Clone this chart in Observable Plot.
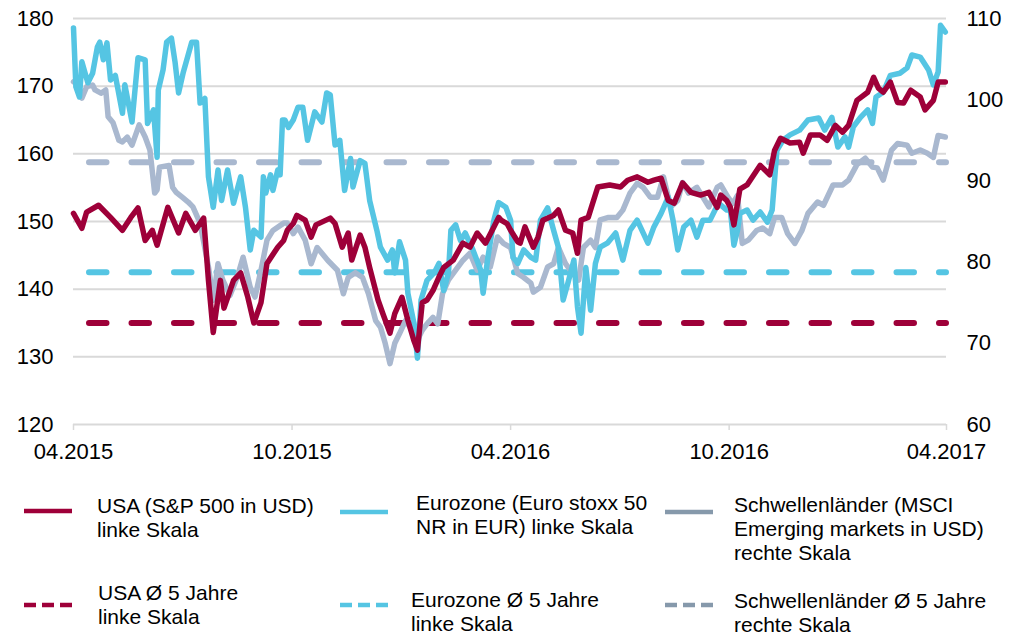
<!DOCTYPE html>
<html><head><meta charset="utf-8">
<script src="https://cdn.jsdelivr.net/npm/d3@7"></script>
<script src="https://cdn.jsdelivr.net/npm/@observablehq/plot@0.6"></script>
<style>
body{margin:0;background:#fff;font-family:"Liberation Sans",Arial,sans-serif;}
#chart{position:absolute;left:0;top:0;}
#legend{position:absolute;left:0;top:470px;width:1009px;height:168px;font-size:21px;color:#000;}
.item{position:absolute;line-height:24px;white-space:nowrap;}
.sw{position:absolute;}
</style></head><body>
<div id="chart"></div><div id="legend"></div>
<script>
// ---------- data ----------
const xDomain = ["2015-04-01", "2017-04-01"];
const xTicks = ["2015-04-01", "2015-10-01", "2016-04-01", "2016-10-01", "2017-04-01"];
const leftTicks = [120, 130, 140, 150, 160, 170, 180];
const rightTicks = [60, 70, 80, 90, 100, 110];

const usaAvg = 135;     // linke Skala
const euroAvg = 142.5;  // linke Skala
const emAvg = 92.3;     // rechte Skala

const usa = [["2015-04-01",151.2],["2015-04-08",149.0],["2015-04-12",151.4],["2015-04-22",152.4],["2015-05-02",150.6],["2015-05-12",148.7],["2015-05-19",150.6],["2015-05-25",152.0],["2015-05-31",147.2],["2015-06-06",148.7],["2015-06-10",146.5],["2015-06-19",152.1],["2015-06-28",148.3],["2015-07-04",151.2],["2015-07-12",148.7],["2015-07-19",150.5],["2015-07-23",141.3],["2015-07-27",133.6],["2015-08-02",141.3],["2015-08-05",137.2],["2015-08-13",141.3],["2015-08-19",142.4],["2015-08-25",138.8],["2015-08-30",135.0],["2015-09-05",138.0],["2015-09-10",143.8],["2015-09-19",146.2],["2015-09-24",147.2],["2015-09-27",148.7],["2015-10-02",149.7],["2015-10-05",150.9],["2015-10-08",150.6],["2015-10-12",150.2],["2015-10-17",147.7],["2015-10-21",149.5],["2015-11-02",150.5],["2015-11-06",149.7],["2015-11-12",146.2],["2015-11-17",148.3],["2015-11-20",144.3],["2015-11-27",148.0],["2015-12-01",146.2],["2015-12-05",143.2],["2015-12-12",138.4],["2015-12-16",136.4],["2015-12-22",133.5],["2015-12-26",136.4],["2016-01-01",138.8],["2016-01-06",135.4],["2016-01-11",132.4],["2016-01-14",131.0],["2016-01-18",138.0],["2016-01-22",138.4],["2016-01-27",139.8],["2016-02-01",141.8],["2016-02-05",143.2],["2016-02-13",144.3],["2016-02-21",146.8],["2016-02-27",146.2],["2016-03-04",148.3],["2016-03-11",146.8],["2016-03-18",149.2],["2016-03-22",150.6],["2016-03-24",150.2],["2016-03-29",149.7],["2016-04-01",148.7],["2016-04-07",147.0],["2016-04-09",146.8],["2016-04-13",149.2],["2016-04-20",146.2],["2016-04-24",147.7],["2016-04-28",150.2],["2016-05-07",150.9],["2016-05-11",151.7],["2016-05-17",148.7],["2016-05-23",148.3],["2016-05-27",145.3],["2016-05-30",150.2],["2016-06-05",150.6],["2016-06-13",155.1],["2016-06-23",155.4],["2016-07-02",155.1],["2016-07-08",156.1],["2016-07-16",156.6],["2016-07-25",155.8],["2016-07-30",156.1],["2016-08-05",156.4],["2016-08-11",153.1],["2016-08-16",152.7],["2016-08-23",155.7],["2016-08-30",154.3],["2016-09-07",153.9],["2016-09-14",154.3],["2016-09-21",152.1],["2016-09-24",153.9],["2016-09-29",153.1],["2016-10-02",152.1],["2016-10-05",149.5],["2016-10-10",154.8],["2016-10-16",155.4],["2016-10-27",158.3],["2016-11-04",156.9],["2016-11-08",160.5],["2016-11-13",162.3],["2016-11-21",161.6],["2016-11-29",161.7],["2016-12-02",160.1],["2016-12-08",162.8],["2016-12-16",162.8],["2016-12-22",162.0],["2016-12-29",164.2],["2017-01-04",163.2],["2017-01-09",164.2],["2017-01-16",167.9],["2017-01-25",169.1],["2017-01-30",171.3],["2017-02-03",169.7],["2017-02-07",169.1],["2017-02-13",170.6],["2017-02-19",167.6],["2017-02-24",167.5],["2017-03-02",169.4],["2017-03-10",168.4],["2017-03-14",166.5],["2017-03-21",167.9],["2017-03-25",170.6],["2017-03-31",170.6]];

const euro = [["2015-04-01",178.6],["2015-04-03",169.9],["2015-04-06",168.4],["2015-04-08",173.6],["2015-04-13",170.5],["2015-04-17",171.9],["2015-04-21",175.8],["2015-04-23",176.5],["2015-04-26",173.9],["2015-04-29",176.4],["2015-05-02",170.9],["2015-05-06",171.6],["2015-05-12",166.0],["2015-05-14",170.2],["2015-05-20",164.7],["2015-05-25",174.2],["2015-05-31",173.9],["2015-06-02",164.5],["2015-06-07",166.5],["2015-06-10",159.5],["2015-06-11",169.4],["2015-06-15",172.4],["2015-06-18",176.5],["2015-06-22",177.1],["2015-06-25",173.6],["2015-06-28",169.0],["2015-07-02",172.1],["2015-07-06",174.6],["2015-07-09",176.5],["2015-07-13",176.5],["2015-07-16",167.5],["2015-07-20",168.2],["2015-07-23",156.6],["2015-07-27",152.1],["2015-07-31",157.6],["2015-08-03",153.1],["2015-08-08",157.6],["2015-08-13",152.7],["2015-08-19",156.6],["2015-08-23",152.1],["2015-08-27",145.8],["2015-08-30",148.7],["2015-09-05",147.7],["2015-09-07",156.6],["2015-09-09",154.2],["2015-09-13",156.9],["2015-09-15",154.6],["2015-09-19",157.6],["2015-09-21",156.9],["2015-09-23",165.0],["2015-09-25",165.0],["2015-09-28",163.9],["2015-10-02",165.0],["2015-10-06",166.9],["2015-10-10",166.9],["2015-10-14",162.0],["2015-10-20",166.2],["2015-10-26",164.7],["2015-10-30",169.0],["2015-11-02",168.7],["2015-11-06",161.3],["2015-11-10",162.0],["2015-11-14",154.6],["2015-11-19",159.3],["2015-11-21",155.1],["2015-11-27",159.0],["2015-12-01",158.6],["2015-12-05",153.1],["2015-12-11",148.7],["2015-12-14",146.2],["2015-12-20",144.3],["2015-12-24",145.8],["2015-12-26",142.4],["2015-12-30",147.0],["2016-01-04",144.3],["2016-01-06",139.4],["2016-01-11",135.0],["2016-01-14",129.8],["2016-01-17",138.4],["2016-01-22",141.3],["2016-01-28",142.4],["2016-02-01",143.8],["2016-02-05",139.8],["2016-02-09",142.4],["2016-02-11",148.7],["2016-02-15",149.5],["2016-02-19",147.2],["2016-02-23",148.3],["2016-02-29",146.0],["2016-03-07",142.8],["2016-03-09",139.4],["2016-03-13",144.7],["2016-03-18",150.2],["2016-03-22",152.8],["2016-03-28",152.1],["2016-04-01",150.2],["2016-04-03",144.7],["2016-04-05",144.3],["2016-04-07",143.8],["2016-04-12",145.8],["2016-04-18",144.7],["2016-04-22",144.3],["2016-04-26",150.2],["2016-05-02",152.0],["2016-05-07",148.7],["2016-05-11",146.2],["2016-05-15",138.4],["2016-05-19",140.9],["2016-05-24",144.3],["2016-05-27",137.4],["2016-05-30",133.5],["2016-06-03",143.2],["2016-06-07",136.9],["2016-06-11",143.8],["2016-06-15",146.2],["2016-06-21",146.8],["2016-06-28",148.3],["2016-07-04",144.3],["2016-07-10",148.7],["2016-07-16",150.2],["2016-07-25",146.8],["2016-07-30",149.2],["2016-08-05",151.2],["2016-08-11",153.6],["2016-08-15",150.2],["2016-08-19",145.8],["2016-08-24",149.2],["2016-08-30",150.2],["2016-09-04",147.7],["2016-09-09",150.2],["2016-09-15",150.2],["2016-09-22",152.7],["2016-09-29",151.7],["2016-10-02",151.7],["2016-10-05",146.5],["2016-10-08",148.7],["2016-10-10",151.2],["2016-10-16",151.7],["2016-10-21",150.2],["2016-10-27",151.4],["2016-11-02",149.9],["2016-11-06",151.7],["2016-11-10",160.5],["2016-11-15",162.0],["2016-11-21",162.8],["2016-11-29",163.5],["2016-12-06",165.0],["2016-12-15",165.3],["2016-12-20",163.5],["2016-12-26",165.4],["2016-12-31",161.0],["2017-01-06",162.5],["2017-01-09",161.0],["2017-01-13",164.0],["2017-01-19",165.4],["2017-01-25",166.5],["2017-01-29",164.5],["2017-02-01",168.4],["2017-02-07",169.1],["2017-02-13",171.6],["2017-02-21",171.9],["2017-02-27",172.7],["2017-03-03",174.6],["2017-03-10",174.3],["2017-03-17",172.4],["2017-03-21",170.2],["2017-03-25",172.1],["2017-03-27",179.0],["2017-03-31",178.0]];

const em = [["2015-04-01",102.2],["2015-04-05",101.8],["2015-04-08",100.2],["2015-04-12",101.6],["2015-04-17",101.8],["2015-04-19",101.2],["2015-04-24",100.8],["2015-04-28",101.2],["2015-04-30",97.9],["2015-05-04",97.2],["2015-05-09",95.0],["2015-05-12",94.8],["2015-05-16",95.4],["2015-05-20",94.4],["2015-05-26",96.9],["2015-05-31",95.4],["2015-06-04",93.8],["2015-06-08",88.5],["2015-06-10",88.9],["2015-06-12",91.7],["2015-06-20",91.9],["2015-06-23",89.2],["2015-06-26",88.6],["2015-07-01",88.0],["2015-07-06",87.4],["2015-07-10",86.8],["2015-07-16",84.8],["2015-07-23",79.4],["2015-07-27",75.3],["2015-07-31",79.8],["2015-08-04",77.8],["2015-08-10",75.9],["2015-08-16",78.1],["2015-08-21",80.6],["2015-08-27",76.9],["2015-08-31",75.7],["2015-09-05",79.0],["2015-09-10",82.7],["2015-09-15",83.9],["2015-09-24",84.8],["2015-09-27",84.8],["2015-10-02",83.5],["2015-10-06",84.3],["2015-10-12",82.7],["2015-10-17",79.8],["2015-10-22",81.8],["2015-10-31",80.2],["2015-11-08",79.0],["2015-11-13",76.1],["2015-11-17",78.1],["2015-11-23",78.7],["2015-11-29",78.1],["2015-12-04",76.1],["2015-12-10",72.8],["2015-12-14",72.0],["2015-12-18",70.0],["2015-12-22",67.5],["2015-12-26",70.0],["2015-12-30",71.2],["2016-01-04",72.8],["2016-01-08",72.0],["2016-01-14",70.4],["2016-01-18",71.6],["2016-01-22",72.4],["2016-01-27",73.2],["2016-01-31",72.4],["2016-02-04",76.1],["2016-02-09",77.8],["2016-02-15",79.0],["2016-02-21",80.2],["2016-02-27",81.1],["2016-03-04",79.0],["2016-03-09",80.6],["2016-03-15",79.4],["2016-03-21",83.1],["2016-03-26",82.3],["2016-04-01",81.8],["2016-04-07",78.6],["2016-04-12",78.1],["2016-04-18",77.4],["2016-04-20",76.3],["2016-04-26",76.9],["2016-05-02",79.4],["2016-05-07",79.8],["2016-05-11",81.8],["2016-05-17",79.8],["2016-05-23",78.6],["2016-05-28",77.8],["2016-06-01",81.8],["2016-06-07",82.7],["2016-06-11",81.8],["2016-06-15",85.2],["2016-06-22",85.5],["2016-06-29",85.5],["2016-07-04",86.4],["2016-07-10",88.5],["2016-07-16",89.7],["2016-07-21",89.2],["2016-07-27",88.0],["2016-08-02",88.0],["2016-08-07",90.5],["2016-08-13",86.8],["2016-08-19",87.6],["2016-08-23",89.8],["2016-08-28",88.5],["2016-09-04",89.2],["2016-09-09",88.0],["2016-09-14",86.8],["2016-09-21",89.2],["2016-09-24",89.5],["2016-09-28",88.5],["2016-09-30",88.0],["2016-10-04",87.2],["2016-10-08",88.2],["2016-10-12",82.3],["2016-10-17",82.7],["2016-10-24",83.9],["2016-10-29",84.2],["2016-11-04",83.5],["2016-11-08",85.5],["2016-11-14",85.5],["2016-11-19",83.5],["2016-11-25",82.3],["2016-12-01",83.9],["2016-12-06",86.0],["2016-12-14",87.4],["2016-12-19",87.0],["2016-12-27",89.5],["2017-01-04",89.5],["2017-01-09",90.1],["2017-01-16",92.0],["2017-01-23",92.8],["2017-01-29",91.7],["2017-02-02",91.6],["2017-02-07",90.1],["2017-02-14",93.8],["2017-02-19",94.6],["2017-02-27",94.4],["2017-03-03",93.4],["2017-03-10",93.8],["2017-03-16",93.4],["2017-03-21",92.9],["2017-03-25",95.6],["2017-03-31",95.4]];

const legendLabels = [
  ["USA (S&P 500 in USD)", "linke Skala"],
  ["Eurozone (Euro stoxx 50", "NR in EUR) linke Skala"],
  ["Schwellenländer (MSCI", "Emerging markets in USD)", "rechte Skala"],
  ["USA Ø 5 Jahre", "linke Skala"],
  ["Eurozone Ø 5 Jahre", "linke Skala"],
  ["Schwellenländer Ø 5 Jahre", "rechte Skala"]
];

// ---------- styling ----------
const RED = "#9e0039", CYAN = "#55c5e3", GREY = "#a9b8cf", GREY_LEG = "#8699ab";
const GRID = "#d9d9d9";

const parse = d3.utcParse("%Y-%m-%d");
// right scale (60..110) mapped onto left scale (120..180)
const toLeft = v => 120 + (v - 60) * 1.2;
const fromLeft = v => 60 + (v - 120) / 1.2;

const toRows = (arr, f = v => v) => arr.map(([d, v]) => ({date: parse(d), y: f(v)}));
const usaRows = toRows(usa), euroRows = toRows(euro), emRows = toRows(em, toLeft);

const dash = {strokeWidth: 6, strokeDasharray: "17.5,25", strokeDashoffset: 26.5, strokeLinecap: "round"};
const lineOpt = {x: "date", y: "y", strokeWidth: 5.5, strokeLinejoin: "round", strokeLinecap: "round", curve: "linear"};

const plot = Plot.plot({
  width: 1009, height: 470,
  marginLeft: 73, marginRight: 63, marginTop: 18, marginBottom: 46,
  style: {fontFamily: "'Liberation Sans', Arial, sans-serif", fontSize: "22px", color: "#000", background: "#fff"},
  x: {type: "utc", domain: xDomain.map(parse)},
  y: {domain: [120, 180]},
  marks: [
    Plot.gridY(leftTicks.filter(t => t > 120), {stroke: GRID, strokeOpacity: 1, strokeWidth: 2}),
    Plot.ruleY([120], {stroke: GRID, strokeWidth: 2}),
    Plot.axisX(xTicks.map(parse), {tickSize: 6, tickPadding: 13, tickFormat: d3.utcFormat("%m.%Y"), stroke: GRID, strokeWidth: 1.5, fill: "#000", label: null}),
    Plot.axisY(leftTicks, {anchor: "left", tickSize: 0, tickPadding: 20, fill: "#000", label: null}),
    Plot.axisY(rightTicks.map(toLeft), {anchor: "right", tickSize: 0, tickPadding: 20, fill: "#000", tickFormat: d => String(Math.round(fromLeft(d))), label: null}),
    Plot.ruleY([toLeft(emAvg)], {stroke: GREY, ...dash}),
    Plot.ruleY([euroAvg], {stroke: CYAN, ...dash}),
    Plot.ruleY([usaAvg], {stroke: RED, ...dash}),
    Plot.line(emRows, {...lineOpt, stroke: GREY}),
    Plot.line(euroRows, {...lineOpt, stroke: CYAN}),
    Plot.line(usaRows, {...lineOpt, stroke: RED})
  ]
});
document.getElementById("chart").appendChild(plot);

// ---------- legend ----------
const legend = document.getElementById("legend");
const items = [
  {c: RED, dashed: false, sx: 24, sy: 41, tx: 97, ty: 24},
  {c: CYAN, dashed: false, sx: 340, sy: 42, tx: 416, ty: 21},
  {c: GREY_LEG, dashed: false, sx: 665, sy: 42, tx: 734, ty: 23},
  {c: RED, dashed: true, sx: 24, sy: 135, tx: 98, ty: 111},
  {c: CYAN, dashed: true, sx: 340, sy: 135, tx: 411, ty: 118},
  {c: GREY_LEG, dashed: true, sx: 665, sy: 135, tx: 734, ty: 119}
];
items.forEach((it, i) => {
  const sw = document.createElementNS("http://www.w3.org/2000/svg", "svg");
  sw.setAttribute("class", "sw");
  sw.setAttribute("width", 50); sw.setAttribute("height", 8);
  sw.style.left = it.sx + "px"; sw.style.top = (it.sy - 4) + "px";
  const ln = document.createElementNS("http://www.w3.org/2000/svg", "line");
  ln.setAttribute("x1", 0); ln.setAttribute("x2", 48); ln.setAttribute("y1", 4); ln.setAttribute("y2", 4);
  ln.setAttribute("stroke", it.c); ln.setAttribute("stroke-width", 4.5);
  if (it.dashed) ln.setAttribute("stroke-dasharray", "12,6");
  sw.appendChild(ln);
  legend.appendChild(sw);
  const t = document.createElement("div");
  t.className = "item";
  t.style.left = it.tx + "px"; t.style.top = it.ty + "px";
  t.innerHTML = legendLabels[i].map(s => s.replace(/&/g, "&amp;")).join("<br>");
  legend.appendChild(t);
});
</script></body></html>
